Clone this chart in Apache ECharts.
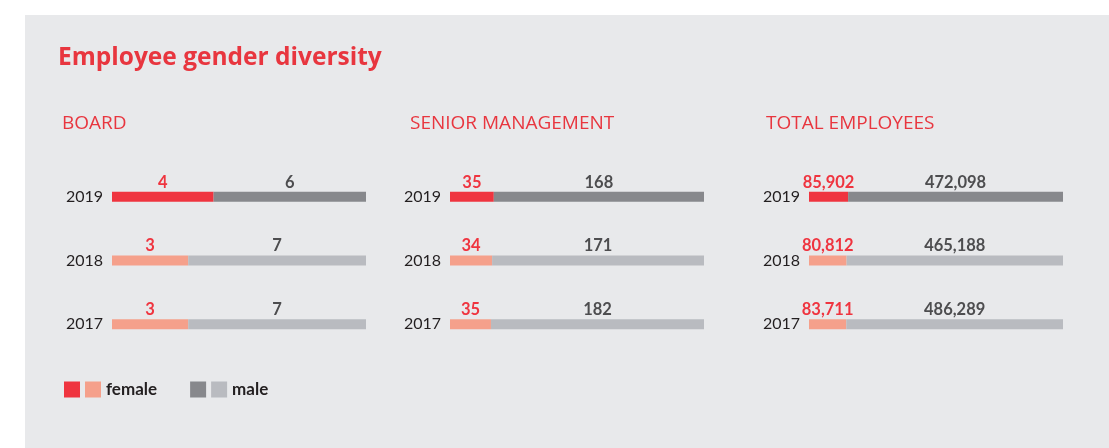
<!DOCTYPE html>
<html>
<head>
<meta charset="utf-8">
<script src="https://cdn.jsdelivr.net/npm/echarts@6/dist/echarts.min.js"></script>
<style>
  html, body { margin: 0; padding: 0; background: #ffffff; }
  #panel { position: absolute; left: 25px; top: 15px; width: 1084px; height: 433px; background: #e8e9eb; }
  #chart { position: absolute; left: 0; top: 0; width: 1109px; height: 448px; }
</style>
</head>
<body>
<div id="panel"></div>
<div id="chart"></div>
<script>
// ---- data ----
const years = ['2019', '2018', '2017'];
const panelTitles = ['BOARD', 'SENIOR MANAGEMENT', 'TOTAL EMPLOYEES'];
const boardFemale = [4, 3, 3];
const boardMale = [6, 7, 7];
const seniorFemale = [35, 34, 35];
const seniorMale = [168, 171, 182];
const totalFemale = [85902, 80812, 83711];
const totalMale = [472098, 465188, 486289];

// ---- styles ----
const FONT = 'Lato, "Open Sans", sans-serif';
const TFONT = '"Open Sans", Lato, sans-serif';
const RED = '#e8363f';
const femaleColors = ['#ef343f', '#f5a08b', '#f5a08b'];
const maleColors = ['#87888c', '#b9bbc0', '#b9bbc0'];
const panels = [
  { female: boardFemale, male: boardMale, left: 112, titleLeft: 62 },
  { female: seniorFemale, male: seniorMale, left: 450, titleLeft: 410 },
  { female: totalFemale, male: totalMale, left: 809, titleLeft: 766 }
];
const fmt = v => v.toLocaleString('en-US');

const grids = [], xAxes = [], yAxes = [], series = [];
const titles = [{
  text: 'Employee gender diversity', left: 58, top: 46, padding: 0,
  textStyle: { color: RED, fontFamily: TFONT, fontWeight: 'bold', fontSize: 24.5 }
}];

panels.forEach((p, i) => {
  titles.push({
    text: panelTitles[i], left: p.titleLeft, top: 114, padding: 0,
    textStyle: { color: RED, fontFamily: TFONT, fontWeight: 'normal', fontSize: 19 }
  });
  grids.push({ left: p.left, top: 165, width: 254, height: 191 });
  xAxes.push({ type: 'value', gridIndex: i, min: 0, max: 100, show: false });
  yAxes.push({
    type: 'category', gridIndex: i, data: years, inverse: true,
    axisLine: { show: false }, axisTick: { show: false }, splitLine: { show: false },
    axisLabel: { color: '#231f20', fontFamily: FONT, fontSize: 16, margin: 9 }
  });
  const tot = p.female.map((f, k) => f + p.male[k]);
  const mk = (arr, colors) => arr.map((v, k) => ({
    value: v / tot[k] * 100, itemStyle: { color: colors[k] }
  }));
  series.push({
    name: 'female', type: 'bar', stack: 's' + i, xAxisIndex: i, yAxisIndex: i,
    barWidth: 10, itemStyle: { color: femaleColors[0] },
    data: mk(p.female, femaleColors),
    label: {
      show: true, position: 'top', distance: 1,
      color: '#ef343f', fontFamily: FONT, fontWeight: 'bold', fontSize: 16.5,
      formatter: q => fmt(p.female[q.dataIndex])
    }
  });
  series.push({
    name: 'male', type: 'bar', stack: 's' + i, xAxisIndex: i, yAxisIndex: i,
    barWidth: 10, itemStyle: { color: maleColors[0] },
    data: mk(p.male, maleColors),
    label: {
      show: true, position: 'top', distance: 1,
      color: '#4d4d4f', fontFamily: FONT, fontWeight: 'bold', fontSize: 16.5,
      formatter: q => fmt(p.male[q.dataIndex])
    }
  });
});

const chart = echarts.init(document.getElementById('chart'), null, { renderer: 'canvas' });
chart.setOption({
  backgroundColor: 'transparent',
  animation: false,
  title: titles,
  grid: grids,
  xAxis: xAxes,
  yAxis: yAxes,
  legend: {
    data: ['female', 'male'], left: 64, top: 381, padding: 0,
    icon: 'rect', itemWidth: 16, itemHeight: 16, itemGap: 33,
    selectedMode: true,
    formatter: name => '{s' + (name === 'female' ? 'f' : 'm') + '|}{t|' + name + '}',
    textStyle: {
      fontFamily: FONT, fontSize: 17, fontWeight: 'bold', color: '#231f20',
      rich: {
        sf: { width: 16, height: 16, backgroundColor: '#f5a08b' },
        sm: { width: 16, height: 16, backgroundColor: '#b9bbc0' },
        t: { fontFamily: FONT, fontSize: 17, fontWeight: 'bold', color: '#231f20', padding: [0, 0, 0, 5] }
      }
    }
  },
  series: series
});
</script>
</body>
</html>
